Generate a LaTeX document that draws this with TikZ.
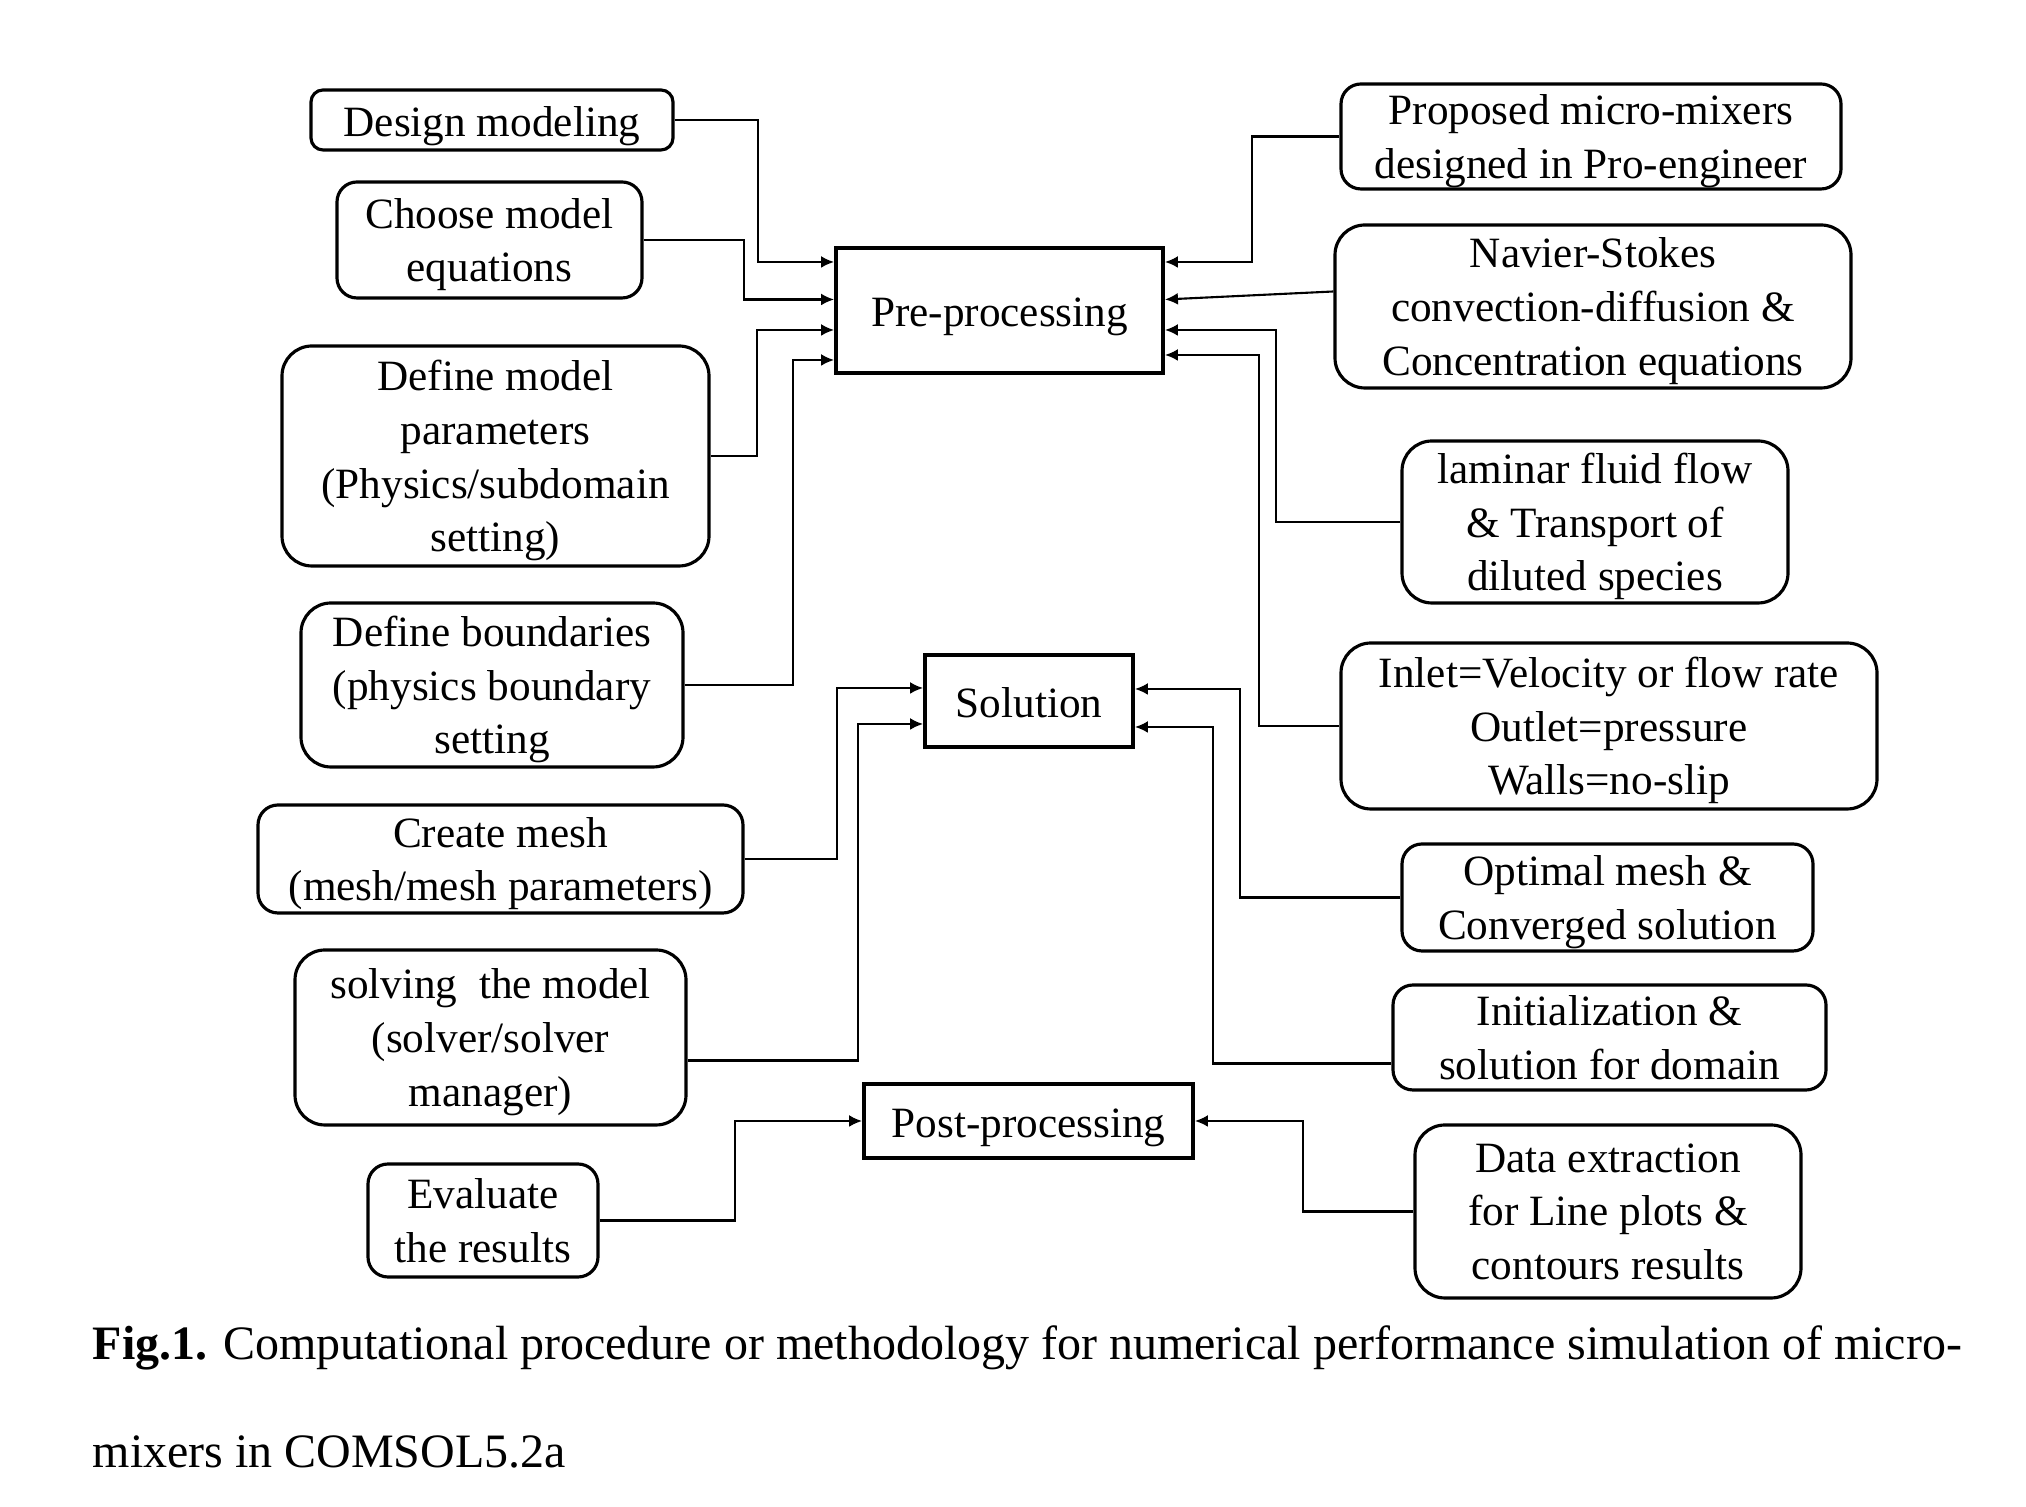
\documentclass[tikz,border=0pt]{standalone}
\usepackage{fontspec}
\setmainfont{Liberation Serif}
\usetikzlibrary{arrows.meta}

\begin{document}
\begin{tikzpicture}[scale=1,
        roundbox/.style={draw,line width=0.9pt,rounded corners=0.2cm,align=center,inner sep=0pt,font=\fontsize{12.3}{15.3}\selectfont,text depth=-1.5pt},
        bigbox/.style={roundbox,rounded corners=0.3cm},
        oneline/.style={text height=11.9pt,text depth=2.66pt},
        stagebox/.style={draw,line width=1.1pt,align=center,inner sep=0pt,font=\fontsize{12.3}{15.3}\selectfont,oneline},
        link/.style={line width=0.6pt,-{Latex[length=3.7pt,width=3.4pt]}},
        capfont/.style={font=\fontsize{13.65}{16}\selectfont,inner sep=0pt}]
            \useasboundingbox (0,0) rectangle (20.26,15.07);
            \node (design) at (4.92,13.87) [roundbox,oneline,rounded corners=0.12cm,minimum width=3.62cm,minimum height=0.60cm] {Design modeling};
            \node (choose) at (4.895,12.67) [roundbox,minimum width=3.05cm,minimum height=1.16cm] {Choose model\\equations};
            \node (params) at (4.955,10.51) [bigbox,minimum width=4.27cm,minimum height=2.20cm] {Define model\\parameters\\(Physics/subdomain\\setting)};
            \node (bounds) at (4.92,8.22) [bigbox,minimum width=3.82cm,minimum height=1.64cm] {Define boundaries\\(physics boundary\\setting};
            \node (mesh) at (5.005,6.48) [roundbox,minimum width=4.85cm,minimum height=1.08cm] {Create mesh\\(mesh/mesh parameters)};
            \node (solving) at (4.905,4.695) [bigbox,minimum width=3.91cm,minimum height=1.75cm] {solving\ \ the model\\(solver/solver\\manager)};
            \node (evaluate) at (4.83,2.865) [roundbox,minimum width=2.30cm,minimum height=1.13cm] {Evaluate\\the results};
            \node (pre) at (9.995,11.965) [stagebox,minimum width=3.27cm,minimum height=1.25cm] {Pre-processing};
            \node (solution) at (10.29,8.06) [stagebox,minimum width=2.08cm,minimum height=0.92cm] {Solution};
            \node (post) at (10.285,3.86) [stagebox,minimum width=3.29cm,minimum height=0.74cm] {Post-processing};
            \node (proposed) at (15.91,13.705) [roundbox,minimum width=5.00cm,minimum height=1.05cm] {Proposed micro-mixers\\designed in Pro-engineer};
            \node (navier) at (15.93,12.005) [bigbox,minimum width=5.16cm,minimum height=1.63cm] {Navier-Stokes\\convection-diffusion \&\\Concentration equations};
            \node (laminar) at (15.95,9.85) [bigbox,minimum width=3.86cm,minimum height=1.62cm] {laminar fluid flow\\\& Transport of\\diluted species};
            \node (inlet) at (16.09,7.81) [bigbox,minimum width=5.36cm,minimum height=1.66cm] {Inlet=Velocity or flow rate\\Outlet=pressure\\Walls=no-slip};
            \node (optimal) at (16.075,6.095) [roundbox,minimum width=4.11cm,minimum height=1.07cm] {Optimal mesh \&\\Converged solution};
            \node (init) at (16.095,4.695) [roundbox,minimum width=4.33cm,minimum height=1.05cm] {Initialization \&\\solution for domain};
            \node (data) at (16.08,2.955) [bigbox,minimum width=3.86cm,minimum height=1.73cm] {Data extraction\\for Line plots \&\\contours results};
            \draw[link] (design.east) -- ++(0.83,0) |- ([yshift=4.85mm]pre.west);
            \draw[link] (choose.east) -- ++(1.00,0) |- ([yshift=1.1mm]pre.west);
            \draw[link] (params.east) -- ++(0.46,0) |- ([yshift=-1.95mm]pre.west);
            \draw[link] (bounds.east) -- ++(1.08,0) |- ([yshift=-4.95mm]pre.west);
            \draw[link] (proposed.west) -- ++(-0.87,0) |- ([yshift=4.85mm]pre.east);
            \draw[link] ([yshift=1.5mm]navier.west) -- ([yshift=1.1mm]pre.east);
            \draw[link] (laminar.west) -- ++(-1.24,0) |- ([yshift=-1.95mm]pre.east);
            \draw[link] (inlet.west) -- ++(-0.80,0) |- ([yshift=-4.45mm]pre.east);
            \draw[link] (mesh.east) -- ++(0.92,0) |- ([yshift=1.3mm]solution.west);
            \draw[link] ([yshift=-2.3mm]solving.east) -- ++(1.70,0) |- ([yshift=-2.3mm]solution.west);
            \draw[link] (optimal.west) -- ++(-1.60,0) |- ([yshift=1.2mm]solution.east);
            \draw[link] ([yshift=-2.6mm]init.west) -- ++(-1.78,0) |- ([yshift=-2.6mm]solution.east);
            \draw[link] (evaluate.east) -- ++(1.35,0) |- (post.west);
            \draw[link] (data.west) -- ++(-1.10,0) |- (post.east);
            \node (capA) at (0.92,1.47) [capfont,anchor=base west] {\textbf{Fig.1.} Computational procedure or methodology for numerical performance simulation of micro-};
            \node (capB) at (0.92,0.39) [capfont,anchor=base west] {mixers in COMSOL5.2a};
        \end{tikzpicture}
\end{document}
